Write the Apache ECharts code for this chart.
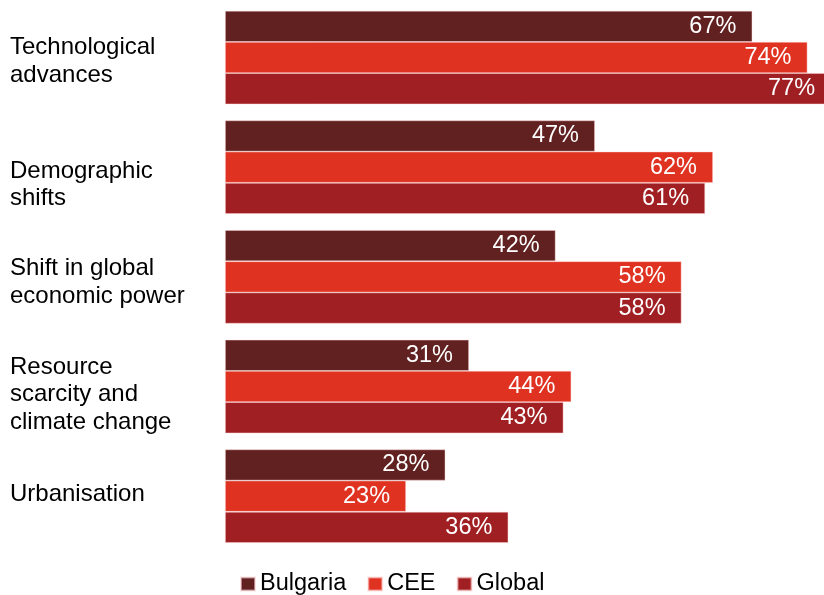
<!DOCTYPE html>
<html>
<head>
<meta charset="utf-8">
<script src="https://cdn.jsdelivr.net/npm/echarts@6/dist/echarts.min.js"></script>
<style>
  html, body { margin: 0; padding: 0; background: #ffffff; }
  #chart { width: 824px; height: 595px; }
</style>
</head>
<body>
<div id="chart"></div>
<script>
// Megatrend categories, top to bottom
const categories = [
  'Technological\nadvances',
  'Demographic\nshifts',
  'Shift in global\neconomic power',
  'Resource\nscarcity and\nclimate change',
  'Urbanisation'
];

// Share of respondents (%) per region
const bulgaria = [67, 47, 42, 31, 28];
const cee      = [74, 62, 58, 44, 23];
const global   = [77, 61, 58, 43, 36];

const seriesNames  = ['Bulgaria', 'CEE', 'Global'];
const seriesColors = ['#602120', '#e03220', '#a01f22'];

const FONT = '"Liberation Sans", Arial, sans-serif';

// Spacer line heights that nudge each category label down (positive) or up (negative)
const labelNudge = [8, 35, 11, 16, -3];

const richStyles = {
  t: { fontFamily: FONT, fontSize: 24, lineHeight: 27.5, color: '#000000', align: 'left' }
};
labelNudge.forEach((h, i) => {
  richStyles['p' + i] = { fontSize: 1, lineHeight: Math.abs(h), height: Math.abs(h) };
});

function labelFormatter(value, index) {
  const body = value.split('\n').map(l => '{t|' + l + '}').join('\n');
  const h = labelNudge[index];
  if (h > 0) return '{p' + index + '| }\n' + body;
  if (h < 0) return body + '\n{p' + index + '| }';
  return body;
}

function makeSeries(name, data, color) {
  return {
    name: name,
    type: 'bar',
    data: data,
    barWidth: 31.2,
    barGap: '0%',
    clip: false,
    itemStyle: {
      color: color,
      borderColor: 'rgba(255,210,210,0.55)',
      borderWidth: 0.8
    },
    label: {
      show: true,
      position: 'insideRight',
      distance: 16,
      formatter: '{c}%',
      color: '#ffffff',
      fontFamily: FONT,
      fontSize: 23.5
    },
    emphasis: { disabled: true }
  };
}

const chart = echarts.init(document.getElementById('chart'), null, { renderer: 'canvas' });

chart.setOption({
  animation: false,
  backgroundColor: '#ffffff',
  grid: {
    left: 225,
    right: 0,
    top: 2.7,
    bottom: 44,
    containLabel: false,
    outerBoundsMode: 'none'
  },
  xAxis: {
    type: 'value',
    min: 0,
    max: 76.1,
    show: false
  },
  yAxis: {
    type: 'category',
    data: categories,
    inverse: true,
    axisLine: { show: false },
    axisTick: { show: false },
    splitLine: { show: false },
    axisLabel: {
      align: 'left',
      margin: 215,
      color: '#000000',
      fontFamily: FONT,
      fontSize: 24,
      lineHeight: 27.5,
      formatter: labelFormatter,
      rich: richStyles
    }
  },
  legend: {
    data: seriesNames,
    left: 235,
    top: 567,
    itemWidth: 14,
    itemHeight: 13,
    itemGap: 21,
    icon: 'rect',
    textStyle: {
      color: '#000000',
      fontFamily: FONT,
      fontSize: 23.5
    }
  },
  series: [
    makeSeries(seriesNames[0], bulgaria, seriesColors[0]),
    makeSeries(seriesNames[1], cee, seriesColors[1]),
    makeSeries(seriesNames[2], global, seriesColors[2])
  ]
});
</script>
</body>
</html>
